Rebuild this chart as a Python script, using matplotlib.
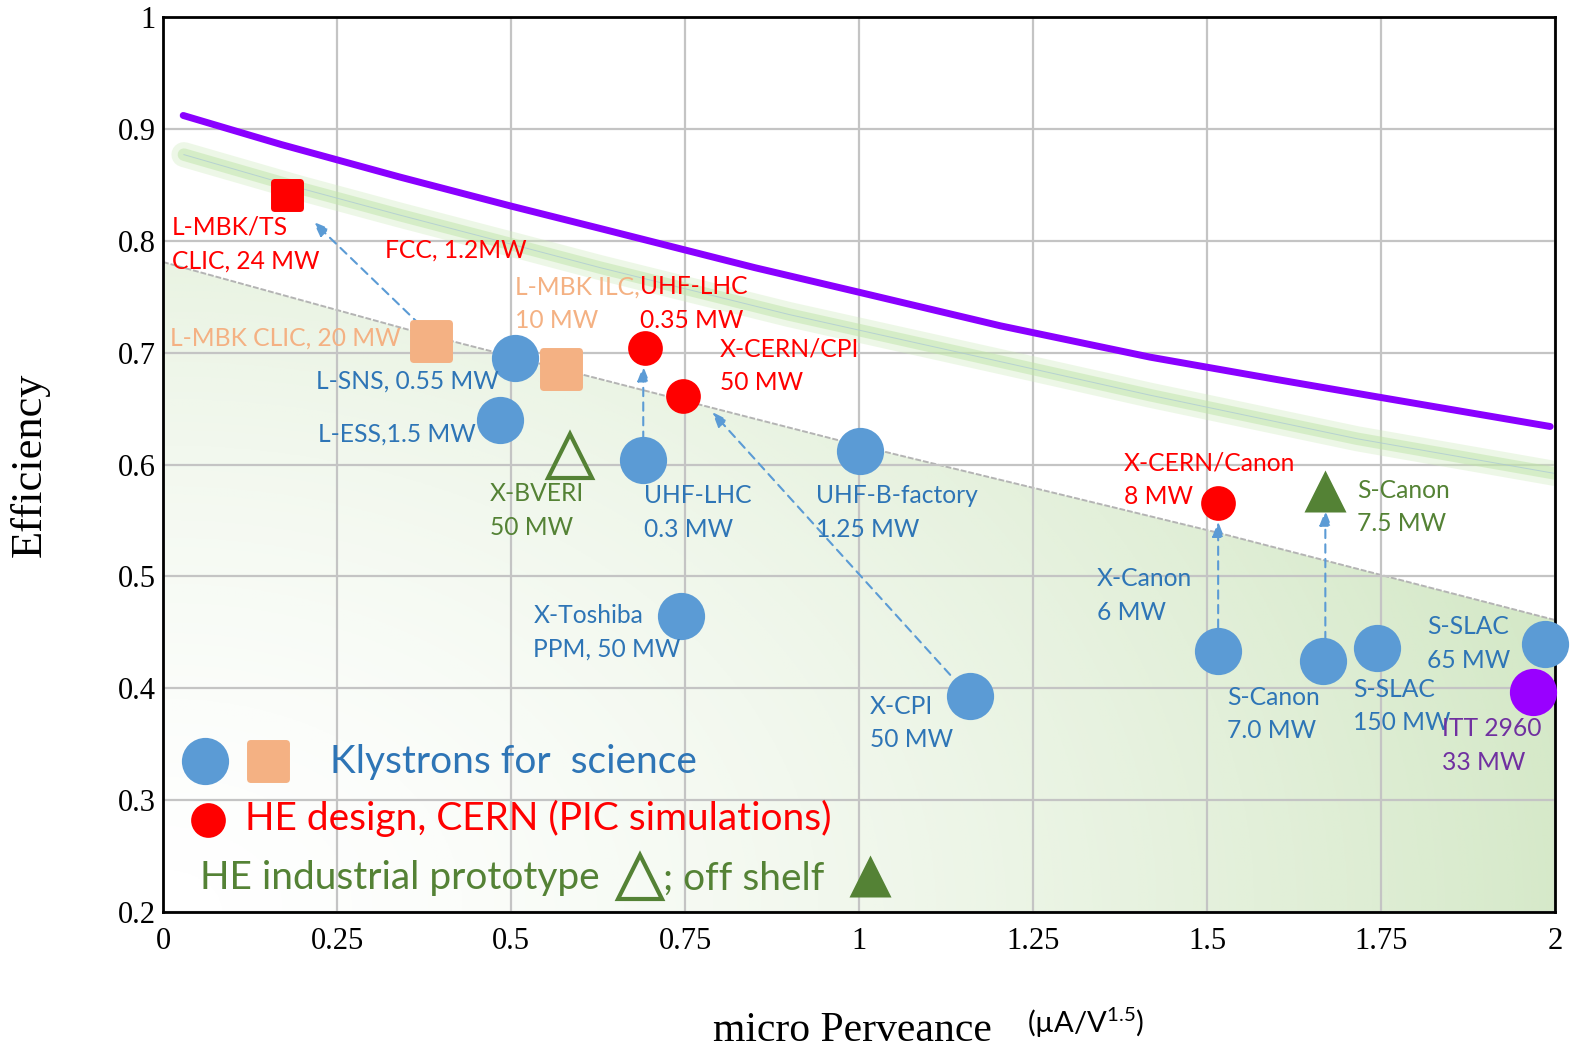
import numpy as np
import matplotlib
matplotlib.use("Agg")
import matplotlib.pyplot as plt
from matplotlib.patches import Polygon
from matplotlib.markers import MarkerStyle

plt.rcParams['mathtext.default'] = 'regular'

SANS = 'Lato'
SERIF = 'Liberation Serif'

# colours
BLUE = '#5b9bd5'
BLUE_TXT = '#2e75b6'
ORANGE = '#f4b183'
RED = '#ff0000'
GREEN = '#548235'
PURPLE_TXT = '#7030a0'

# limit curves
purple_x = [0.029, 0.17, 0.34, 0.50, 0.628, 0.85, 1.0, 1.203, 1.418, 1.60, 1.749, 1.993]
purple_y = [0.912, 0.886, 0.857, 0.831, 0.811, 0.776, 0.754, 0.724, 0.696, 0.676, 0.660, 0.634]

glow_x = [0.03, 0.197, 0.34, 0.50, 0.628, 0.90, 1.203, 1.418, 1.716, 2.0]
glow_y = [0.877, 0.847, 0.823, 0.797, 0.776, 0.734, 0.692, 0.662, 0.623, 0.592]

edge_x = [0.0, 0.373, 1.0, 1.516, 2.0]
edge_y = [0.781, 0.717, 0.617, 0.539, 0.461]

# klystrons for science
blue_x = [0.506, 0.484, 0.690, 1.001, 0.744, 1.159, 1.516, 1.667, 1.744, 1.986]
blue_y = [0.695, 0.640, 0.604, 0.612, 0.465, 0.393, 0.433, 0.424, 0.436, 0.440]
orange_x = [0.385, 0.572]
orange_y = [0.710, 0.685]

# HE designs
red_sq_x = [0.178]
red_sq_y = [0.841]
red_x = [0.693, 0.747, 1.516]
red_y = [0.704, 0.661, 0.566]

# industrial
tri_open_x = [0.585]
tri_open_y = [0.608]
tri_fill_x = [1.670]
tri_fill_y = [0.576]

itt_x = [1.968]
itt_y = [0.397]

# upgrade arrows
arrow_from = [(0.369, 0.725), (0.690, 0.622), (1.131, 0.412), (1.516, 0.454), (1.670, 0.443)]
arrow_to = [(0.216, 0.817), (0.690, 0.688), (0.789, 0.647), (1.516, 0.549), (1.670, 0.559)]

labels = [
    ("L-MBK/TS\nCLIC, 24 MW", 0.013, 0.797, RED),
    ("FCC, 1.2MW", 0.319, 0.792, RED),
    ("L-MBK ILC,\n10 MW", 0.506, 0.744, ORANGE),
    ("UHF-LHC\n0.35 MW", 0.685, 0.744, RED),
    ("X-CERN/CPI\n50 MW", 0.800, 0.688, RED),
    ("L-MBK CLIC, 20 MW", 0.010, 0.713, ORANGE),
    ("L-SNS, 0.55 MW", 0.220, 0.675, BLUE_TXT),
    ("L-ESS,1.5 MW", 0.223, 0.627, BLUE_TXT),
    ("X-BVERI\n50 MW", 0.470, 0.559, GREEN),
    ("UHF-LHC\n0.3 MW", 0.691, 0.557, BLUE_TXT),
    ("UHF-B-factory\n1.25 MW", 0.938, 0.557, BLUE_TXT),
    ("X-CERN/Canon\n8 MW", 1.381, 0.586, RED),
    ("S-Canon\n7.5 MW", 1.716, 0.562, GREEN),
    ("X-Canon\n6 MW", 1.342, 0.483, BLUE_TXT),
    ("X-Toshiba\nPPM, 50 MW", 0.532, 0.450, BLUE_TXT),
    ("S-SLAC\n65 MW", 1.816, 0.440, BLUE_TXT),
    ("X-CPI\n50 MW", 1.016, 0.369, BLUE_TXT),
    ("S-Canon\n7.0 MW", 1.529, 0.377, BLUE_TXT),
    ("S-SLAC\n150 MW", 1.710, 0.384, BLUE_TXT),
    ("ITT 2960\n33 MW", 1.838, 0.349, PURPLE_TXT),
]

fig = plt.figure(figsize=(15.72, 10.5), dpi=100)
ax = fig.add_axes([0.1037, 0.1314, 0.8855, 0.8524])
ax.set_xlim(0, 2)
ax.set_ylim(0.2, 1)

# shaded region under the present-day limit
gx, gy = np.meshgrid(np.linspace(0, 2, 400), np.linspace(0.2, 1, 300))
t = np.sqrt(0.7 * (gx / 2) ** 2 + 0.3 * ((gy - 0.2) / 0.58) ** 2)
rgba = np.zeros(gx.shape + (4,))
rgba[..., 0] = 169 / 255
rgba[..., 1] = 209 / 255
rgba[..., 2] = 142 / 255
rgba[..., 3] = np.clip(0.62 * t ** 1.5, 0, 0.58)
im = ax.imshow(rgba, extent=[0, 2, 0.2, 1], origin='lower', aspect='auto', zorder=0.2)
clip = Polygon(list(zip(edge_x, edge_y)) + [(2, 0.2), (0, 0.2)], closed=True,
               facecolor='none', edgecolor='none', transform=ax.transData)
ax.add_patch(clip)
im.set_clip_path(clip)
ax.plot(edge_x, edge_y, color='#b4b4b4', lw=1.4, ls=(0, (3, 1)), zorder=1)

ax.grid(True, color='#c4c4c4', lw=1.6)
ax.set_xticks(np.arange(0, 2.01, 0.25))
ax.set_yticks(np.arange(0.2, 1.01, 0.1))
ax.set_xticklabels(['0', '0.25', '0.5', '0.75', '1', '1.25', '1.5', '1.75', '2'])
ax.set_yticklabels(['0.2', '0.3', '0.4', '0.5', '0.6', '0.7', '0.8', '0.9', '1'])
ax.tick_params(length=0, labelsize=22)
ax.tick_params(axis='x', pad=11)
ax.tick_params(axis='y', pad=5)
for lab in ax.get_xticklabels() + ax.get_yticklabels():
    lab.set_family(SERIF)
for s in ax.spines.values():
    s.set_linewidth(2)
    s.set_color('black')

# curves
ax.plot(glow_x, glow_y, color='#cdeabb', lw=18, alpha=0.35, solid_capstyle='round', zorder=2)
ax.plot(glow_x, glow_y, color='#bfe4a8', lw=9, alpha=0.5, solid_capstyle='round', zorder=2)
ax.plot(glow_x, glow_y, color='#a9c6d6', lw=0.7, alpha=0.7, zorder=2)
ax.plot(purple_x, purple_y, color='#8a00ff', lw=5, solid_capstyle='round', zorder=3)

# arrows
for (x0, y0), (x1, y1) in zip(arrow_from, arrow_to):
    ax.annotate('', xy=(x1, y1), xytext=(x0, y0),
                arrowprops=dict(arrowstyle='-|>,head_width=0.35,head_length=0.9',
                                color=BLUE, lw=1.5, ls=(0, (4, 3)),
                                shrinkA=0, shrinkB=0), zorder=4)

rsq = MarkerStyle('s', joinstyle='round')
ax.plot(blue_x, blue_y, 'o', ms=34, color=BLUE, mec='none', clip_on=False, zorder=5)
ax.plot(orange_x, orange_y, ls='none', marker=rsq, ms=26, color=ORANGE, mec=ORANGE,
        mew=5, zorder=5)
ax.plot(red_sq_x, red_sq_y, ls='none', marker=rsq, ms=19, color=RED, mec=RED, mew=5, zorder=5)
ax.plot(red_x, red_y, 'o', ms=25, color=RED, mec='none', zorder=5)
ax.plot(tri_open_x, tri_open_y, '^', ms=32, mfc='none', mec=GREEN, mew=3, zorder=5)
ax.plot(tri_fill_x, tri_fill_y, '^', ms=30, color=GREEN, mec='none', zorder=5)
ax.plot(itt_x, itt_y, 'o', ms=34, color='#9900ff', mec='none', clip_on=False, zorder=5)

for txt, x, y, c in labels:
    ax.text(x, y, txt, color=c, fontsize=17.7, family=SANS, ha='left', va='center',
            linespacing=1.55, zorder=6, clip_on=False)

# legend drawn inside the plot
ax.plot([0.060], [0.335], 'o', ms=34, color=BLUE, mec='none', zorder=5)
ax.plot([0.151], [0.335], ls='none', marker=rsq, ms=26, color=ORANGE, mec=ORANGE, mew=5, zorder=5)
ax.text(0.240, 0.334, "Klystrons for  science", color=BLUE_TXT, fontsize=28, family=SANS,
        va='center', zorder=6)
ax.plot([0.065], [0.282], 'o', ms=25, color=RED, mec='none', zorder=5)
ax.text(0.118, 0.284, "HE design, CERN (PIC simulations)", color=RED, fontsize=28,
        family=SANS, va='center', zorder=6)
ax.text(0.053, 0.230, "HE industrial prototype", color=GREEN, fontsize=28, family=SANS,
        va='center', zorder=6)
ax.plot([0.685], [0.231], '^', ms=32, mfc='none', mec=GREEN, mew=3, zorder=5)
ax.text(0.718, 0.230, "; off shelf", color=GREEN, fontsize=28, family=SANS,
        va='center', zorder=6)
ax.plot([1.016], [0.232], '^', ms=30, color=GREEN, mec='none', zorder=5)

fig.text(0.019, 0.557, "Efficiency", rotation=90, fontsize=32, family=SERIF,
         ha='center', va='center')
fig.text(0.542, 0.018, "micro Perveance", fontsize=30, family=SERIF, ha='center', va='center')
fig.text(0.653, 0.026, "(µA/V$^{1.5}$)", fontsize=21, family=SANS, ha='left', va='center')

fig.savefig("out.png", dpi=100)
